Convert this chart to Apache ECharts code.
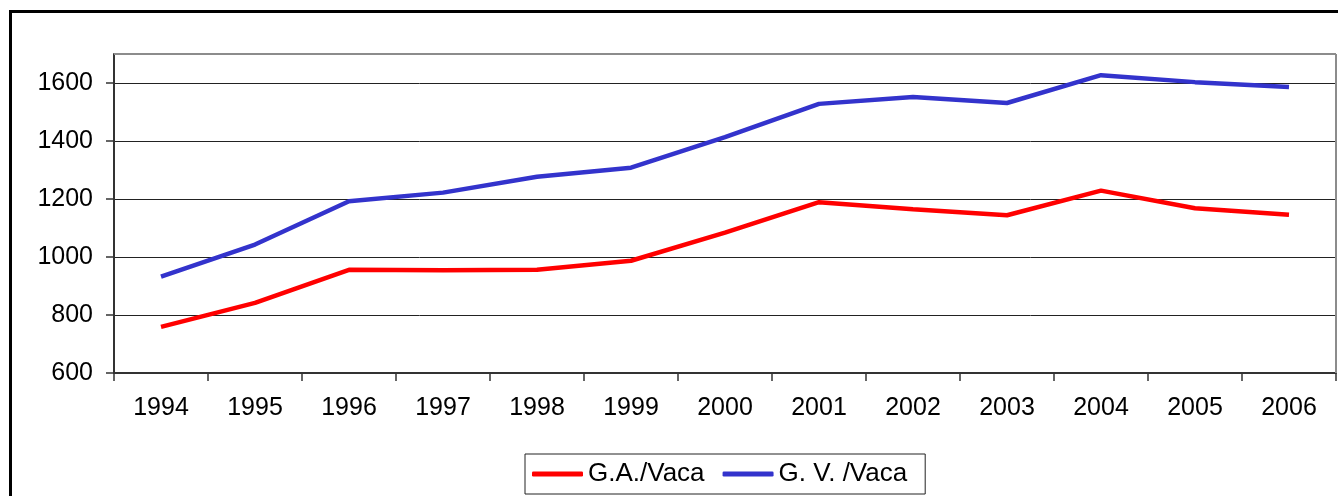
<!DOCTYPE html>
<html>
<head>
<meta charset="utf-8">
<script src="https://cdn.jsdelivr.net/npm/echarts@6/dist/echarts.min.js"></script>
<style>
html,body{margin:0;padding:0;background:#fff;}
#c{width:1338px;height:496px;}
</style>
</head>
<body>
<div id="c"></div>
<script>
const years = ['1994','1995','1996','1997','1998','1999','2000','2001','2002','2003','2004','2005','2006'];
const gaVaca = [759, 842, 956, 954, 956, 987, 1084, 1189, 1165, 1144, 1229, 1168, 1146];
const gvVaca = [932, 1043, 1192, 1222, 1277, 1308, 1413, 1528, 1552, 1531, 1627, 1603, 1586];
const yTicks = [600, 800, 1000, 1200, 1400, 1600];
const seriesNames = ['G.A./Vaca', 'G. V. /Vaca'];

const chart = echarts.init(document.getElementById('c'), null, {renderer: 'canvas'});
const font = 'Liberation Sans, Arial, sans-serif';
const gridTop = 54, gridLeft = 114, gridRight = 2, gridBottom = 123;
chart.setOption({
  animation: false,
  backgroundColor: '#fff',
  graphic: [{
    type: 'rect', z: 0,
    shape: {x: 10.5, y: 11.5, width: 1340, height: 500},
    style: {fill: 'none', stroke: '#000', lineWidth: 3}
  }, {
    type: 'line', z: 100,
    shape: {x1: gridLeft, y1: gridTop, x2: 1338 - gridRight, y2: gridTop},
    style: {stroke: '#8c8c8c', lineWidth: 2}
  }, {
    type: 'line', z: 100,
    shape: {x1: 1338 - gridRight, y1: gridTop, x2: 1338 - gridRight, y2: 496 - gridBottom},
    style: {stroke: '#8c8c8c', lineWidth: 2}
  }],
  grid: {left: gridLeft, right: gridRight, top: gridTop, bottom: gridBottom},
  legend: {
    left: 525, top: 454,
    padding: [7, 18, 7, 7],
    itemGap: 18,
    itemWidth: 51, itemHeight: 5,
    icon: 'roundRect',
    borderColor: '#222', borderWidth: 1,
    textStyle: {fontFamily: font, fontSize: 26, color: '#000'},
    data: seriesNames
  },
  xAxis: {
    type: 'category', data: years, boundaryGap: true,
    axisLine: {lineStyle: {color: '#333', width: 2}},
    axisTick: {show: true, length: 8, lineStyle: {color: '#333', width: 1.5}},
    axisLabel: {fontFamily: font, fontSize: 25, color: '#000', margin: 23},
    splitLine: {show: false}
  },
  yAxis: {
    type: 'value', min: 600, max: 1700, interval: 200,
    axisLine: {show: true, lineStyle: {color: '#333', width: 2}},
    axisTick: {show: true, length: 8, customValues: yTicks, lineStyle: {color: '#333', width: 1.5}},
    axisLabel: {fontFamily: font, fontSize: 25, color: '#000', margin: 21, customValues: yTicks,
      formatter: v => String(v)},
    splitLine: {show: true, lineStyle: {color: '#222', width: 1}}
  },
  series: [
    {name: seriesNames[0], type: 'line', data: gaVaca, symbol: 'none', color: '#FF0000',
     lineStyle: {width: 4.5, color: '#FF0000'}},
    {name: seriesNames[1], type: 'line', data: gvVaca, symbol: 'none', color: '#3333CC',
     lineStyle: {width: 4.5, color: '#3333CC'}}
  ]
});
</script>
</body>
</html>
